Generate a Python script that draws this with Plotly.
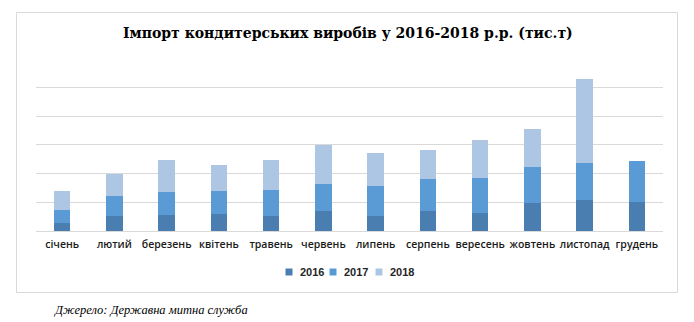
import plotly.graph_objects as go

# Monthly confectionery imports, thousand tonnes
months = ["січень", "лютий", "березень", "квітень", "травень", "червень",
          "липень", "серпень", "вересень", "жовтень", "листопад", "грудень"]
imports_2016 = [1.4, 2.7, 2.8, 3.1, 2.7, 3.5, 2.7, 3.5, 3.3, 4.9, 5.4, 5.2]
imports_2017 = [2.4, 3.4, 4.0, 4.0, 4.6, 4.7, 5.3, 5.6, 6.0, 6.3, 6.6, 7.0]
imports_2018 = [3.3, 3.9, 5.6, 4.5, 5.1, 6.8, 5.6, 5.0, 6.6, 6.6, 14.5, None]
years = ["2016", "2017", "2018"]
series = [imports_2016, imports_2017, imports_2018]
colors = ["#4A7EB0", "#5B9BD5", "#ADC6E4"]

W, H = 694, 322


def px(x):
    return x / W


def py(y):
    return 1 - y / H


fig = go.Figure()
for name, vals, col in zip(years, series, colors):
    fig.add_trace(go.Bar(
        x=months, y=vals, name=name, marker=dict(color=col, line=dict(width=0)),
        width=0.32, showlegend=False,
    ))

shapes = [
    # outer chart frame
    dict(type="rect", xref="paper", yref="paper",
         x0=px(16.5), x1=px(677.5), y0=py(292.5), y1=py(12.5),
         line=dict(color="#D9D9D9", width=1), fillcolor="rgba(0,0,0,0)", layer="below"),
]
annotations = [
    dict(text="Імпорт кондитерських виробів у 2016-2018 р.р. (тис.т)",
         x=px(348), y=py(33), xref="paper", yref="paper", showarrow=False,
         xanchor="center", yanchor="middle",
         font=dict(family="DejaVu Serif", size=14, color="#000000", weight="bold")),
    dict(text="<i>Джерело: Державна митна служба</i>",
         x=px(52), y=py(310), xref="paper", yref="paper", showarrow=False,
         xanchor="left", yanchor="middle",
         font=dict(family="Liberation Serif", size=12.5, color="#000000")),
]

# legend: colour square + year label
leg_sq = [289, 333, 379]
for lx, name, col in zip(leg_sq, years, colors):
    shapes.append(dict(type="rect", xref="paper", yref="paper",
                       x0=px(lx - 3.5), x1=px(lx + 3.5), y0=py(275.5), y1=py(268.5),
                       line=dict(width=0), fillcolor=col))
    annotations.append(dict(text=name, x=px(lx + 9), y=py(272), xref="paper", yref="paper",
                            showarrow=False, xanchor="left", yanchor="middle",
                            font=dict(family="Liberation Sans", size=11, color="#262626",
                                      weight="bold")))

fig.update_layout(
    width=W, height=H,
    margin=dict(l=0, r=0, t=0, b=0),
    paper_bgcolor="white", plot_bgcolor="white",
    barmode="stack", bargap=0,
    xaxis=dict(domain=[px(36), px(663)], type="category", range=[-0.5, 11.5],
               showline=False, ticks="", showgrid=False, zeroline=False, tickangle=0,
               ticklabelstandoff=5,
               tickfont=dict(family="Open Sans", size=10.5, color="#1a1a1a", weight=600)),
    yaxis=dict(domain=[py(231), py(58.5)], range=[0, 30], dtick=5,
               showticklabels=False, ticks="", showgrid=True, gridcolor="#D9D9D9",
               gridwidth=1, zeroline=True, zerolinecolor="#D9D9D9", zerolinewidth=1,
               showline=False),
    shapes=shapes, annotations=annotations,
)

fig.write_html("out.html")
